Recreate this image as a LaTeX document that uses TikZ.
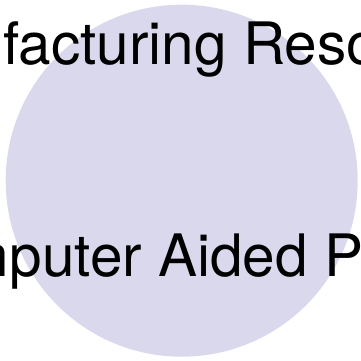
\documentclass[tikz,border=0pt]{standalone}
\usepackage{fontspec}
\setmainfont{TeX Gyre Heros}
\definecolor{setfill}{RGB}{218,216,237}
\begin{document}
\begin{tikzpicture}[x=1pt,y=1pt,
  label text/.style={inner sep=0pt, outer sep=0pt, anchor=base west, text=black, font=\fontsize{58.5}{62}\selectfont}]
  \useasboundingbox (0,0) rectangle (360,361);
  \clip (0,0) rectangle (360,361);
  % set disc
  \node[circle, fill=setfill, draw=none, minimum size=352pt, inner sep=0pt] (set) at (181.7,180.3) {};
  % set labels
  \node[label text] (top) at (3,296) {facturing Reso};
  \node[label text] (bottom) at (-39.5,84) {mputer Aided P};
\end{tikzpicture}
\end{document}
